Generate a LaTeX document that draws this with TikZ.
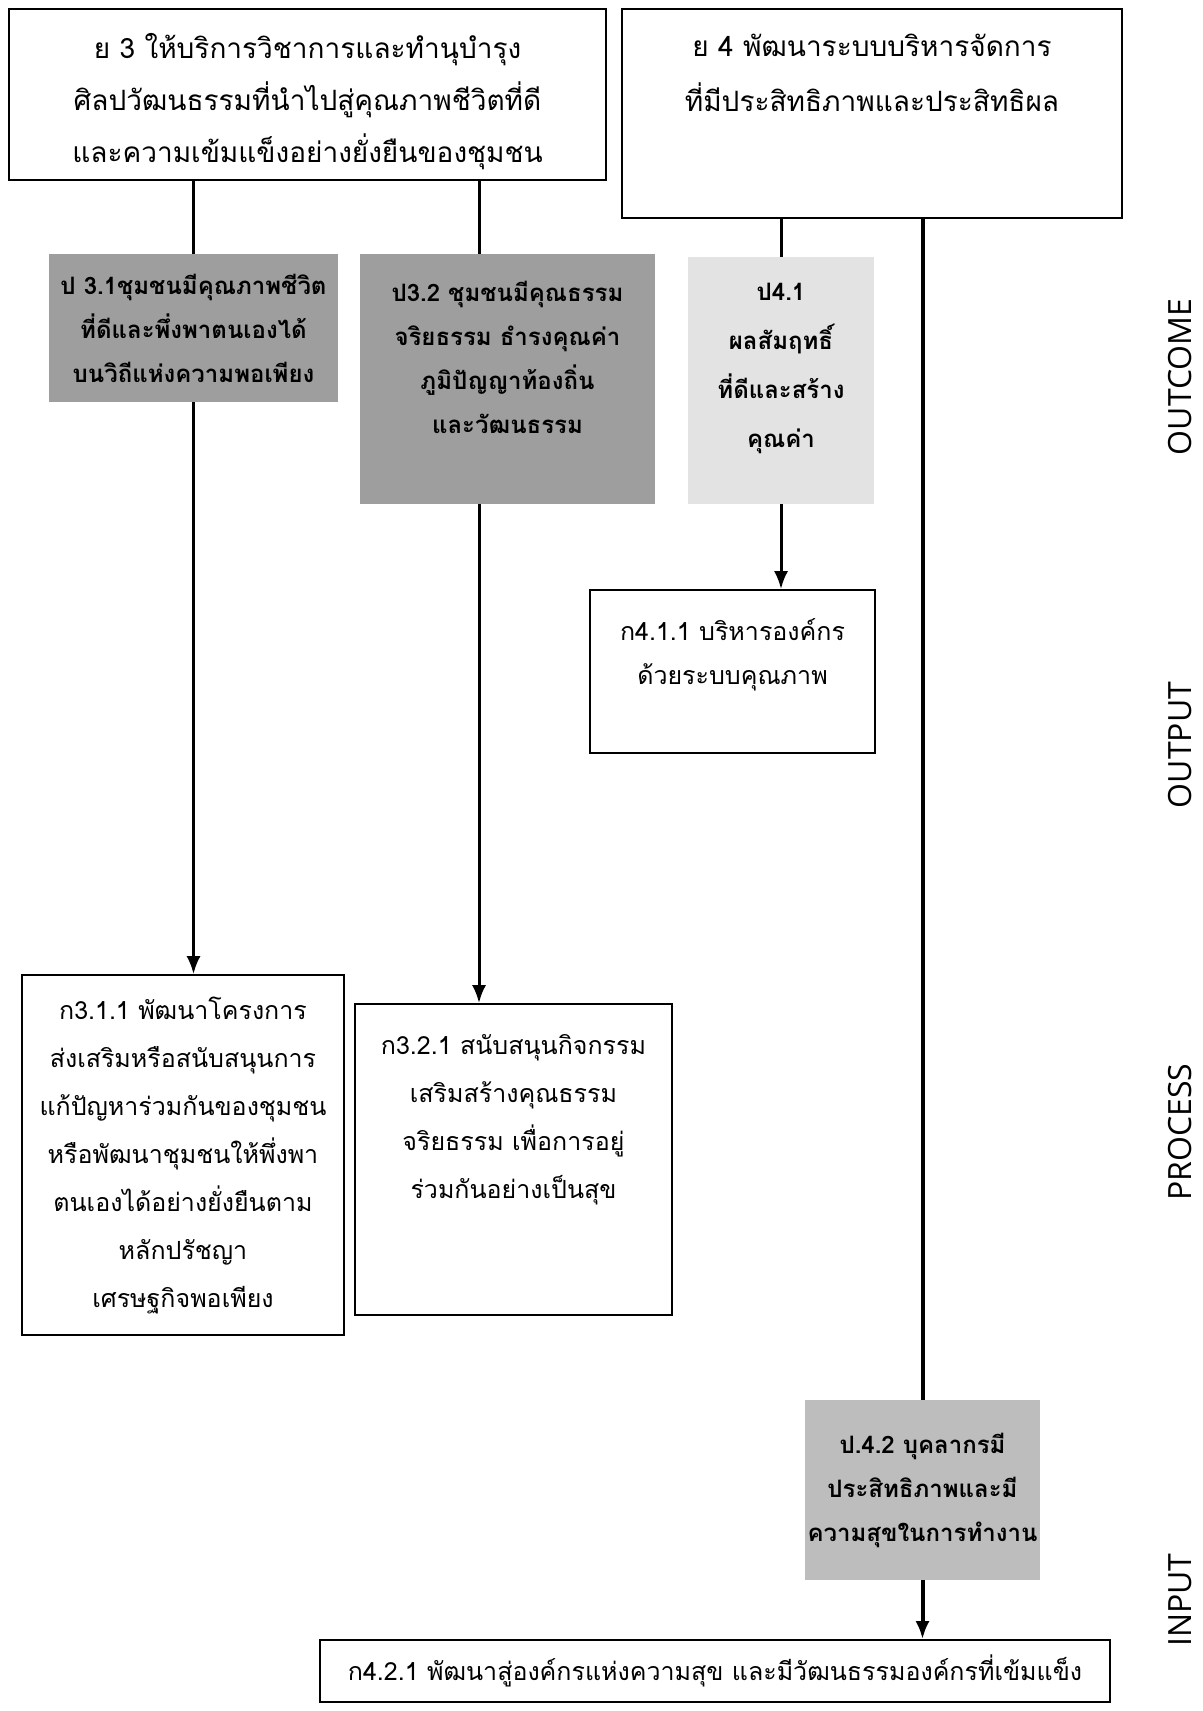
\documentclass[tikz,border=0pt]{standalone}
\usepackage{fontspec}
\setmainfont{Open Sans}
\newfontfamily\thaifont[Script=Thai]{Loma}
\usetikzlibrary{arrows.meta}
\usetikzlibrary{positioning}

% extra room above the first line / below the last line of a box
\newcommand{\padabove}[1]{\rule{0pt}{#1}}
\newcommand{\padbelow}[1]{\rule[-#1]{0pt}{#1}}

\tikzset{
  ybox/.style={draw, line width=0.8pt, align=center, inner sep=0pt,
    font=\thaifont\fontsize{14}{26}\selectfont},
  gbox/.style={draw, line width=0.8pt, align=center, inner sep=0pt,
    font=\thaifont\fontsize{12.5}{24}\selectfont},
  pbox/.style={align=center, inner sep=0pt,
    font=\thaifont\bfseries\fontsize{12}{22}\selectfont},
  conn/.style={line width=1.5pt},
  arr/.style={line width=1.5pt, -{Latex[length=9pt,width=7pt]}},
  lvl/.style={rotate=90, font=\fontsize{16}{19}\selectfont},
}

\begin{document}
\begin{tikzpicture}[x=0.5pt, y=-0.5pt]
\fill[white] (0,0) rectangle (1203,1711);
\useasboundingbox (0,0) rectangle (1203,1711);

%goals
\node[ybox, minimum width=298.5pt, minimum height=85.5pt] (y3) at (307.5,94.5)
  {\padabove{20pt}ย 3 ให้บริการวิชาการและทำนุบำรุง\\ศิลปวัฒนธรรมที่นำไปสู่คุณภาพชีวิตที่ดี\\และความเข้มแข็งอย่างยั่งยืนของชุมชน};
\node[ybox, minimum width=250pt, minimum height=104.5pt, font=\thaifont\fontsize{14}{27.5}\selectfont] (y4) at (872,113.5)
  {ย 4 พัฒนาระบบบริหารจัดการ\\ที่มีประสิทธิภาพและประสิทธิผล\padbelow{41pt}};

%outcome
\node[pbox, fill=black!38, minimum width=144.5pt, minimum height=74pt] (p31) at (193.5,328)
  {ป 3.1ชุมชนมีคุณภาพชีวิต\\ที่ดีและพึ่งพาตนเองได้\\บนวิถีแห่งความพอเพียง};
\node[pbox, fill=black!38, minimum width=147.5pt, minimum height=125pt] (p32) at (507.5,379)
  {ป3.2 ชุมชนมีคุณธรรม\\จริยธรรม ธำรงคุณค่า\\ภูมิปัญญาท้องถิ่น\\และวัฒนธรรม\padbelow{22pt}};
\node[pbox, fill=black!11, minimum width=93pt, minimum height=123.5pt, font=\thaifont\bfseries\fontsize{12}{24.5}\selectfont] (p41) at (781,380.5)
  {ป4.1\\ผลสัมฤทธิ์\\ที่ดีและสร้าง\\คุณค่า\padbelow{15pt}};

%output
\node[gbox, minimum width=142.5pt, minimum height=81.5pt, font=\thaifont\fontsize{12.5}{22}\selectfont] (g411) at (732.5,671.5)
  {ก4.1.1 บริหารองค์กร\\ด้วยระบบคุณภาพ\padbelow{20pt}};

%process
\node[gbox, minimum width=161pt, minimum height=180pt] (g311) at (183,1155)
  {ก3.1.1 พัฒนาโครงการ\\ส่งเสริมหรือสนับสนุนการ\\แก้ปัญหาร่วมกันของชุมชน\\หรือพัฒนาชุมชนให้พึ่งพา\\ตนเองได้อย่างยั่งยืนตาม\\หลักปรัชญา\\เศรษฐกิจพอเพียง};
\node[gbox, minimum width=158.5pt, minimum height=155.5pt] (g321) at (513.5,1159.5)
  {ก3.2.1 สนับสนุนกิจกรรม\\เสริมสร้างคุณธรรม\\จริยธรรม เพื่อการอยู่\\ร่วมกันอย่างเป็นสุข\padbelow{43pt}};

%input
\node[pbox, fill=black!26, minimum width=117.5pt, minimum height=90pt] (p42) at (922.5,1490)
  {ป.4.2 บุคลากรมี\\ประสิทธิภาพและมี\\ความสุขในการทำงาน};
\node[gbox, minimum width=395pt, minimum height=31pt] (g421) at (715,1671)
  {ก4.2.1 พัฒนาสู่องค์กรแห่งความสุข และมีวัฒนธรรมองค์กรที่เข้มแข็ง};

%links
\coordinate (t32) at (479,0);
\draw[conn] (y3.south -| p31.north) -- (p31.north);
\draw[arr] (p31.south) -- (p31.south |- g311.north);
\draw[conn] (y3.south -| t32) -- (p32.north -| t32);
\draw[arr] (p32.south -| t32) -- (g321.north -| t32);
\draw[conn] (y4.south -| p41.north) -- (p41.north);
\draw[arr] (p41.south) -- (p41.south |- g411.north);
\draw[conn, line width=2pt] (y4.south -| p42.north) -- (p42.north);
\draw[arr, line width=2pt] (p42.south) -- (p42.south |- g421.north);

%levels
\foreach \lv/\y in {OUTCOME/377, OUTPUT/745, PROCESS/1132, INPUT/1600}
  \node[lvl] (lv\lv) at (1180,\y) {\lv};
\end{tikzpicture}
\end{document}
